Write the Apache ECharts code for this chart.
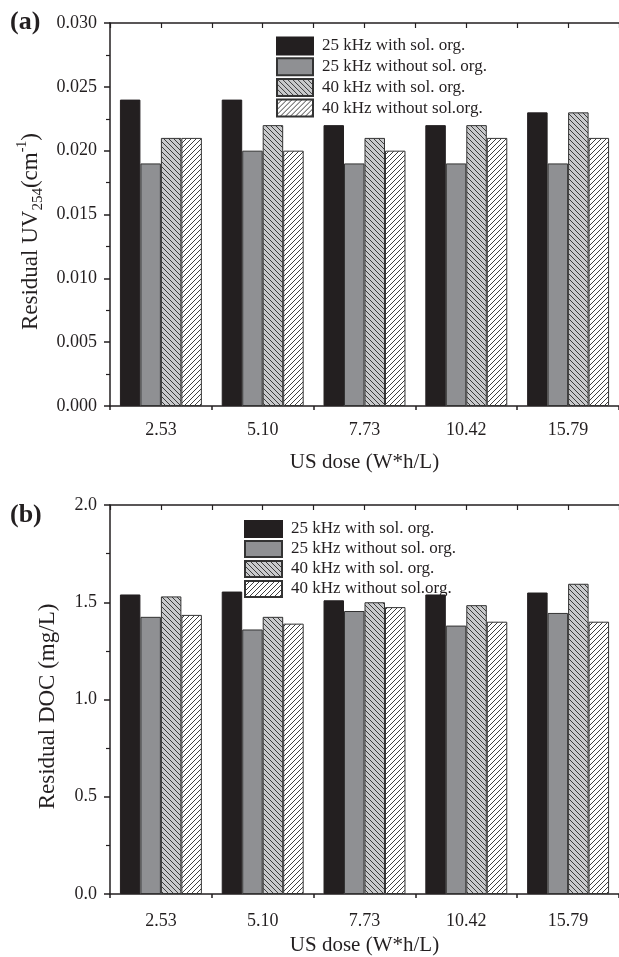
<!DOCTYPE html>
<html>
<head>
<meta charset="utf-8">
<script src="https://cdn.jsdelivr.net/npm/echarts@6/dist/echarts.min.js"></script>
<style>
html,body{margin:0;padding:0;background:#fff;}
#chart{width:619px;height:957px;}
</style>
</head>
<body>
<div id="chart"></div>
<script>
// ---- data ----
const categories = ['2.53', '5.10', '7.73', '10.42', '15.79'];
const seriesNames = ['25 kHz with sol. org.', '25 kHz without sol. org.', '40 kHz with sol. org.', '40 kHz without sol.org.'];

const uv25With    = [0.024, 0.024, 0.022, 0.022, 0.023];
const uv25Without = [0.019, 0.020, 0.019, 0.019, 0.019];
const uv40With    = [0.021, 0.022, 0.021, 0.022, 0.023];
const uv40Without = [0.021, 0.020, 0.020, 0.021, 0.021];

const doc25With    = [1.54, 1.555, 1.51, 1.54, 1.55];
const doc25Without = [1.425, 1.36, 1.455, 1.38, 1.445];
const doc40With    = [1.53, 1.425, 1.50, 1.485, 1.595];
const doc40Without = [1.435, 1.39, 1.475, 1.40, 1.40];

const xTitle = 'US dose (W*h/L)';

// ---- styles ----
const FONT = 'Liberation Serif';
const INK = '#231f20';

function hatch(bg, dir) {
  const s = 5;
  const c = document.createElement('canvas');
  c.width = s; c.height = s;
  const ctx = c.getContext('2d');
  ctx.fillStyle = bg; ctx.fillRect(0, 0, s, s);
  ctx.strokeStyle = '#2a2a2a'; ctx.lineWidth = 0.9;
  ctx.beginPath();
  if (dir === 'back') {
    ctx.moveTo(-1, -1); ctx.lineTo(s + 1, s + 1);
    ctx.moveTo(-1, s - 1); ctx.lineTo(1, s + 1);
    ctx.moveTo(s - 1, -1); ctx.lineTo(s + 1, 1);
  } else {
    ctx.moveTo(-1, s + 1); ctx.lineTo(s + 1, -1);
    ctx.moveTo(-1, 1); ctx.lineTo(1, -1);
    ctx.moveTo(s - 1, s + 1); ctx.lineTo(s + 1, s - 1);
  }
  ctx.stroke();
  return c;
}

const styles = [
  { color: INK, borderColor: INK, borderWidth: 1 },
  { color: '#8f9093', borderColor: '#333', borderWidth: 1 },
  { color: { image: hatch('#c9cacc', 'back'), repeat: 'repeat' }, borderColor: '#333', borderWidth: 1 },
  { color: { image: hatch('#ffffff', 'fwd'), repeat: 'repeat' }, borderColor: '#333', borderWidth: 1 }
];

const grids = [
  { left: 110, right: -8, top: 23, height: 383 },
  { left: 110, right: -8, top: 505, height: 391 }
];

const axisLineStyle = { color: INK, width: 1.5 };

function xAxesFor(gi, labelMargin, nameGap) {
  return [
    {
      type: 'category', gridIndex: gi, data: categories, position: 'bottom',
      name: xTitle, nameLocation: 'middle', nameGap: nameGap,
      nameTextStyle: { fontFamily: FONT, fontSize: 21, color: INK },
      axisLine: { lineStyle: axisLineStyle },
      axisTick: { alignWithLabel: true, length: 7, lineStyle: { color: INK, width: 1.5 } },
      axisLabel: { fontFamily: FONT, fontSize: 18, color: INK, margin: labelMargin },
      splitLine: { show: false }
    },
    {
      type: 'value', gridIndex: gi, position: 'bottom', min: 0, max: 5, interval: 1,
      axisLine: { show: false },
      axisTick: { show: true, length: 4, lineStyle: { color: INK, width: 1.5 } },
      axisLabel: { show: false }, splitLine: { show: false }
    },
    {
      type: 'value', gridIndex: gi, position: 'top', min: 0, max: 5, interval: 0.5,
      axisLine: { show: true, lineStyle: axisLineStyle },
      axisTick: { show: true, inside: true, length: 5, lineStyle: { color: INK, width: 1.2 } },
      axisLabel: { show: false }, splitLine: { show: false }
    }
  ];
}

function yAxisFor(gi, max, interval, decimals, name, gap, pad) {
  return {
    type: 'value', gridIndex: gi, min: 0, max: max, interval: interval,
    name: name, nameLocation: 'middle', nameGap: gap, nameRotate: 90,
    nameTextStyle: {
      fontFamily: FONT, fontSize: 23, color: INK, padding: pad,
      rich: {
        n: { fontFamily: FONT, fontSize: 23, color: INK, lineHeight: 30 },
        sub: { fontFamily: FONT, fontSize: 15, color: INK, verticalAlign: 'bottom', lineHeight: 30 },
        sup: { fontFamily: FONT, fontSize: 14, color: INK, verticalAlign: 'top', lineHeight: 30 }
      }
    },
    axisLine: { show: true, lineStyle: axisLineStyle },
    axisTick: { show: true, length: 6, lineStyle: { color: INK, width: 1.5 } },
    minorTick: { show: true, splitNumber: 2, length: 4, lineStyle: { color: INK, width: 1.2 } },
    axisLabel: { fontFamily: FONT, fontSize: 18, color: INK, margin: 13,
      formatter: v => v.toFixed(decimals) },
    splitLine: { show: false }
  };
}

const uvData = [uv25With, uv25Without, uv40With, uv40Without];
const docData = [doc25With, doc25Without, doc40With, doc40Without];

const series = [];
[uvData, docData].forEach((set, gi) => {
  set.forEach((vals, i) => {
    series.push({
      type: 'bar', name: seriesNames[i], data: vals,
      xAxisIndex: gi * 3, yAxisIndex: gi,
      barGap: '0%', barCategoryGap: '19.5%',
      itemStyle: styles[i],
      emphasis: { disabled: true }
    });
  });
});

const legendCommon = {
  orient: 'vertical', icon: 'rect', selectedMode: false, z: 10,
  textStyle: { fontFamily: FONT, fontSize: 17, color: INK, lineHeight: 17, padding: [0, 0, 0, 4] },
  data: seriesNames
};

const option = {
  animation: false,
  backgroundColor: '#fff',
  grid: grids,
  xAxis: [...xAxesFor(0, 15, 46), ...xAxesFor(1, 18, 41)],
  yAxis: [
    yAxisFor(0, 0.030, 0.005, 3, '{n|Residual UV}{sub|254}{n|(cm}{sup|-1}{n|)}', 60, [0, 34, 0, 0]),
    yAxisFor(1, 2.0, 0.5, 1, 'Residual DOC (mg/L)', 51, [0, 14, 0, 0])
  ],
  legend: [
    Object.assign({}, legendCommon, { left: 271, top: 31.5, itemWidth: 36, itemHeight: 17, itemGap: 1.7 }),
    Object.assign({}, legendCommon, { left: 239, top: 515, itemWidth: 37, itemHeight: 16, itemGap: 2 })
  ],
  graphic: [
    { type: 'text', left: 10, top: 9, style: { text: '(a)', font: 'bold 26px "Liberation Serif"', fill: INK } },
    { type: 'text', left: 10, top: 502, style: { text: '(b)', font: 'bold 26px "Liberation Serif"', fill: INK } }
  ],
  series: series
};

const chart = echarts.init(document.getElementById('chart'), null, { renderer: 'canvas' });
chart.setOption(option);
</script>
</body>
</html>
